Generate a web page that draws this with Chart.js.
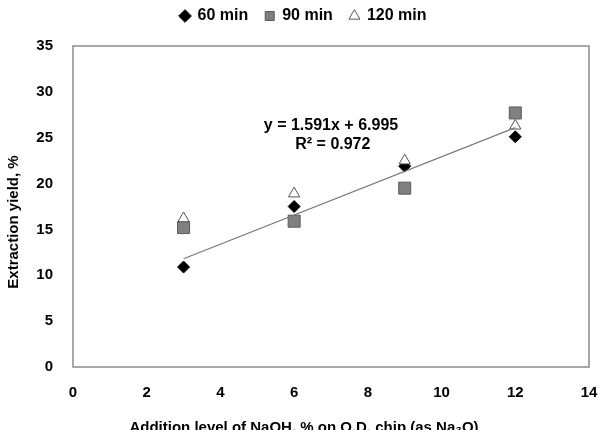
<!DOCTYPE html>
<html>
<head>
<meta charset="utf-8">
<script src="https://cdn.jsdelivr.net/npm/chart.js@4"></script>
<style>
  html, body { margin: 0; padding: 0; background: #fff; }
  #wrap { width: 599px; height: 430px; }
</style>
</head>
<body>
<div id="wrap"><canvas id="yieldChart"></canvas></div>
<script>
// NaOH addition level (% on O.D. chip)
const naohLevels = [3, 6, 9, 12];

// Extraction yield, % by cooking time
const yield60 = [10.9, 17.5, 21.9, 25.1];
const yield90 = [15.2, 15.9, 19.5, 27.7];
const yield120 = [16.2, 18.9, 22.5, 26.3];

// Linear trend line ends
const trendX = [3, 12];
const trendY = [11.8, 26.1];

const trendLabels = ['y = 1.591x + 6.995', 'R\u00b2 = 0.972'];
const xTitle = 'Addition level of NaOH, % on O.D. chip (as Na\u2082O)';
const yTitle = 'Extraction yield, %';

const FONT = '"Liberation Sans", Arial, sans-serif';

function toPoints(xs, ys) {
  return xs.map((x, i) => ({ x: x, y: ys[i] }));
}

// Leave a gap under the legend, like the original layout
const legendGapPlugin = {
  id: 'legendGap',
  beforeLayout(chart) {
    const legend = chart.legend;
    if (!legend || legend._gapWrapped) return;
    const fit = legend.fit.bind(legend);
    legend.fit = function () {
      fit();
      this.height += 12;
    };
    legend._gapWrapped = true;
  }
};

// Plot box border, axis titles and the trend equation
const decorPlugin = {
  id: 'decor',
  afterDraw(chart) {
    const ctx = chart.ctx;
    const area = chart.chartArea;
    const xs = chart.scales.x;
    const ys = chart.scales.y;
    ctx.save();
    ctx.strokeStyle = '#8a8a8a';
    ctx.lineWidth = 1.5;
    ctx.strokeRect(area.left, area.top, area.right - area.left, area.bottom - area.top);

    ctx.fillStyle = '#000';
    ctx.font = 'bold 16px ' + FONT;
    ctx.textAlign = 'center';
    ctx.textBaseline = 'middle';
    ctx.fillText(trendLabels[0], xs.getPixelForValue(7.0), ys.getPixelForValue(26.3));
    ctx.fillText(trendLabels[1], xs.getPixelForValue(7.05), ys.getPixelForValue(24.2));

    ctx.font = 'bold 15px ' + FONT;
    ctx.textBaseline = 'alphabetic';
    ctx.fillText(xTitle, 304, 432);

    ctx.translate(14, 222);
    ctx.rotate(-Math.PI / 2);
    ctx.textBaseline = 'middle';
    ctx.fillText(yTitle, 0, 0);
    ctx.restore();
  }
};

new Chart(document.getElementById('yieldChart'), {
  type: 'scatter',
  data: {
    datasets: [
      {
        label: '60 min',
        data: toPoints(naohLevels, yield60),
        pointStyle: 'rectRot',
        pointRadius: 6,
        backgroundColor: '#000',
        borderColor: '#000',
        borderWidth: 1,
        order: 3
      },
      {
        label: '90 min',
        data: toPoints(naohLevels, yield90),
        pointStyle: 'rect',
        pointRadius: 8.5,
        backgroundColor: '#808080',
        borderColor: '#5a5a5a',
        borderWidth: 1,
        order: 2
      },
      {
        label: '120 min',
        data: toPoints(naohLevels, yield120),
        pointStyle: 'triangle',
        pointRadius: 6.5,
        backgroundColor: '#fff',
        borderColor: '#555',
        borderWidth: 1,
        order: 1
      },
      {
        label: 'trend',
        type: 'line',
        data: toPoints(trendX, trendY),
        borderColor: '#7a7a7a',
        borderWidth: 1.2,
        pointRadius: 0,
        fill: false,
        order: 0
      }
    ]
  },
  options: {
    responsive: true,
    maintainAspectRatio: false,
    animation: false,
    layout: { padding: { top: -9, right: 0, bottom: 0, left: 8 } },
    plugins: {
      tooltip: { enabled: false },
      legend: {
        position: 'top',
        labels: {
          usePointStyle: true,
          boxWidth: 9,
          boxHeight: 9,
          padding: 17,
          color: '#000',
          font: { family: FONT, size: 16, weight: 'bold' },
          filter: item => item.text !== 'trend',
          sort: (a, b) => a.datasetIndex - b.datasetIndex
        }
      }
    },
    scales: {
      x: {
        type: 'linear',
        min: 0,
        max: 14,
        afterFit: s => {
          s.height = 63;
          s.paddingLeft = 0;
          s.paddingRight = 10;
        },
        ticks: {
          stepSize: 2,
          padding: 17,
          color: '#000',
          font: { family: FONT, size: 15, weight: 'bold' }
        },
        grid: { display: false, drawTicks: false },
        border: { display: false }
      },
      y: {
        min: 0,
        max: 35,
        afterFit: s => { s.width = 65; },
        ticks: {
          stepSize: 5,
          padding: 20,
          color: '#000',
          font: { family: FONT, size: 15, weight: 'bold' }
        },
        grid: { display: false, drawTicks: false },
        border: { display: false }
      }
    }
  },
  plugins: [legendGapPlugin, decorPlugin]
});
</script>
</body>
</html>
